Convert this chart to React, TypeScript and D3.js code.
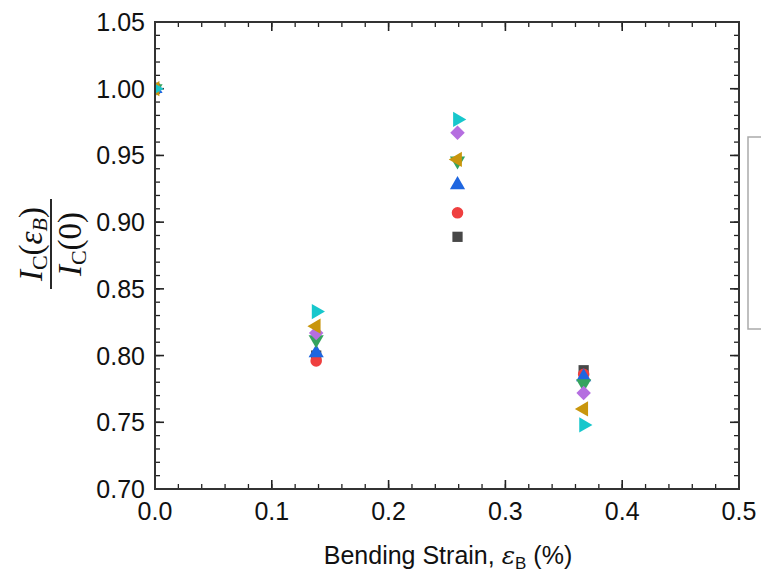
import React from "react";
import * as d3 from "d3";

// bending strain (%) for each measurement
const strain = [0, 0.138, 0.259, 0.367];

// normalized critical current Ic(eps)/Ic(0), one list per sample
const sampleA = [1.0, 0.8, 0.889, 0.789];
const sampleB = [1.0, 0.796, 0.907, 0.786];
const sampleC = [1.0, 0.802, 0.928, 0.784];
const sampleD = [1.0, 0.812, 0.946, 0.779];
const sampleE = [1.0, 0.817, 0.967, 0.772];
const sampleF = [1.0, 0.822, 0.947, 0.76];
const sampleG = [1.0, 0.833, 0.977, 0.748];

const xTicks = [0, 0.1, 0.2, 0.3, 0.4, 0.5];
const yTicks = [0.7, 0.75, 0.8, 0.85, 0.9, 0.95, 1.0, 1.05];

const series = [
  { vals: sampleA, color: "#474747", shape: "square" },
  { vals: sampleB, color: "#ef3f3f", shape: "circle" },
  { vals: sampleC, color: "#1f66e0", shape: "up" },
  { vals: sampleD, color: "#35a35e", shape: "down" },
  { vals: sampleE, color: "#b56ee0", shape: "diamond" },
  { vals: sampleF, color: "#c9960c", shape: "left" },
  { vals: sampleG, color: "#17c7cc", shape: "right" },
];

const W = 761;
const H = 574;
const left = 155, right = 739, top = 22, bottom = 489;

function markerPath(shape: string) {
  const gen = d3.symbol();
  if (shape === "square") return gen.type(d3.symbolSquare).size(105)();
  if (shape === "circle") return gen.type(d3.symbolCircle).size(105)();
  if (shape === "diamond") return gen.type(d3.symbolSquare).size(105)();
  return gen.type(d3.symbolTriangle).size(100)();
}
function markerRot(shape: string) {
  if (shape === "diamond") return 45;
  if (shape === "down") return 180;
  if (shape === "left") return -90;
  if (shape === "right") return 90;
  return 0;
}

export default function App() {
  const x = d3.scaleLinear().domain([0, 0.5]).range([left, right]);
  const y = d3.scaleLinear().domain([0.7, 1.05]).range([bottom, top]);

  const xMinor = d3.range(0, 0.5001, 0.02);
  const yMinor = d3.range(0.7, 1.0501, 0.01);
  const font = "'Liberation Sans', Arial, sans-serif";

  return (
    <svg width={W} height={H} style={{ position: "absolute", left: 0, top: 0 }}>
      <rect width={W} height={H} fill="#fff" />
      <defs>
        <clipPath id="plotClip">
          <rect x={left} y={top} width={right - left} height={bottom - top} />
        </clipPath>
      </defs>

      {/* minor ticks */}
      <g stroke="#222" strokeWidth={1.3}>
        {xMinor.map((t, i) => (
          <g key={"xm" + i}>
            <line x1={x(t)} x2={x(t)} y1={bottom} y2={bottom - 5} />
            <line x1={x(t)} x2={x(t)} y1={top} y2={top + 5} />
          </g>
        ))}
        {yMinor.map((t, i) => (
          <g key={"ym" + i}>
            <line x1={left} x2={left + 5} y1={y(t)} y2={y(t)} />
            <line x1={right} x2={right - 5} y1={y(t)} y2={y(t)} />
          </g>
        ))}
      </g>
      {/* major ticks */}
      <g stroke="#222" strokeWidth={1.6}>
        {xTicks.map((t, i) => (
          <g key={"xM" + i}>
            <line x1={x(t)} x2={x(t)} y1={bottom} y2={bottom - 9} />
            <line x1={x(t)} x2={x(t)} y1={top} y2={top + 9} />
          </g>
        ))}
        {yTicks.map((t, i) => (
          <g key={"yM" + i}>
            <line x1={left} x2={left + 9} y1={y(t)} y2={y(t)} />
            <line x1={right} x2={right - 9} y1={y(t)} y2={y(t)} />
          </g>
        ))}
      </g>

      <g clipPath="url(#plotClip)">
        {series.map((s, si) => (
          <g key={"s" + si} fill={s.color}>
            {s.vals.map((v, i) => (
              <path
                key={"p" + i}
                d={markerPath(s.shape) || ""}
                transform={`translate(${x(strain[i])},${y(v)}) rotate(${markerRot(s.shape)})`}
              />
            ))}
          </g>
        ))}
      </g>

      <rect x={left} y={top} width={right - left} height={bottom - top} fill="none" stroke="#333" strokeWidth={2} />

      {/* tick labels */}
      <g fontFamily={font} fill="#111">
        {xTicks.map((t, i) => (
          <text key={"xl" + i} x={x(t)} y={bottom + 31} textAnchor="middle" fontSize={25}>
            {t.toFixed(1)}
          </text>
        ))}
        {yTicks.map((t, i) => (
          <text key={"yl" + i} x={left - 10} y={y(t) + 9} textAnchor="end" fontSize={25}>
            {t.toFixed(2)}
          </text>
        ))}
      </g>

      {/* x label */}
      <text x={448} y={564} textAnchor="middle" fontFamily={font} fontSize={25} fill="#111">
        Bending Strain, <tspan fontStyle="italic" fontFamily="'DejaVu Serif', serif">ε</tspan>
        <tspan fontSize={17} dy={5}>B</tspan>
        <tspan dy={-5}> (%)</tspan>
      </text>

      {/* y label: fraction */}
      <g transform="translate(51,244) rotate(-90)" fontFamily="'Liberation Serif', 'Times New Roman', serif" fill="#111">
        <text x={0} y={-9} textAnchor="middle" fontSize={33}>
          <tspan fontStyle="italic">I</tspan>
          <tspan fontSize={22} dy={5}>C</tspan>
          <tspan dy={-5}>(</tspan>
          <tspan fontStyle="italic">ε</tspan>
          <tspan fontStyle="italic" fontSize={22} dy={5}>B</tspan>
          <tspan dy={-5}>)</tspan>
        </text>
        <line x1={-45} x2={45} y1={0} y2={0} stroke="#111" strokeWidth={1.8} />
        <text x={0} y={30} textAnchor="middle" fontSize={33}>
          <tspan fontStyle="italic">I</tspan>
          <tspan fontSize={22} dy={5}>C</tspan>
          <tspan dy={-5}>(0)</tspan>
        </text>
      </g>

      {/* legend frame, cut by the right edge */}
      <rect x={748} y={137} width={40} height={192} fill="none" stroke="#aaa" strokeWidth={1.5} />
    </svg>
  );
}
